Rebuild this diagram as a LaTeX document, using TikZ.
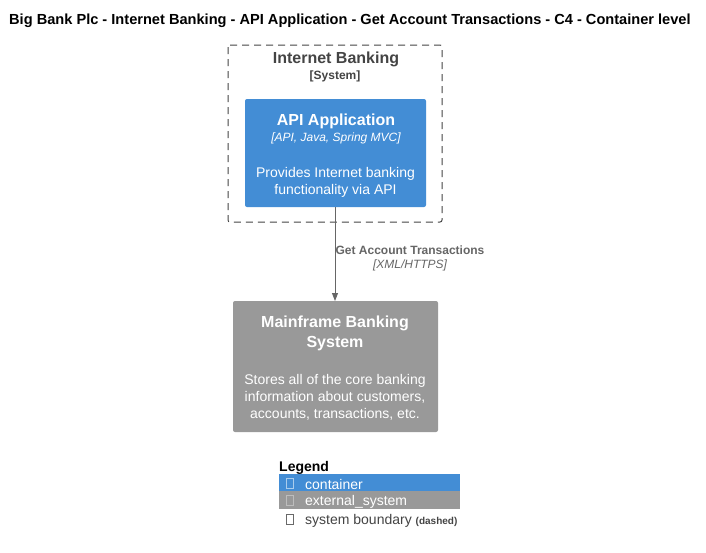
\documentclass[tikz,border=0pt]{standalone}
\usepackage{fontspec}
\setmainfont{Liberation Sans}
\usetikzlibrary{arrows.meta}
\definecolor{cblue}{HTML}{438DD5}
\definecolor{cgray}{HTML}{999999}
\definecolor{bnd}{HTML}{444444}
\definecolor{rel}{HTML}{666666}
\begin{document}
\begin{tikzpicture}[x=1pt,y=-1pt,
  fs/.style={font=\fontsize{#1}{#1}\selectfont},
  txt/.style={inner sep=0pt,anchor=center,yshift=-1.8pt},
  elem/.style={rounded corners=2pt,draw=none},
  tofu/.style={draw,line width=0.6pt,minimum width=7pt,minimum height=10pt,inner sep=0pt}]
\useasboundingbox (0,0) rectangle (706,552);
\fill[white] (0,0) rectangle (706,552);
% title
\node[txt,anchor=west,fs=14.6] (title) at (9,19) {\bfseries Big Bank Plc - Internet Banking - API Application - Get Account Transactions - C4 - Container level};
% boundary
\draw[bnd,dashed,dash pattern=on 7pt off 5pt,line width=1pt,rounded corners=2pt] (228,45) rectangle (442,222);
\node[txt,fs=16,text=bnd] (bt) at (336,58) {\bfseries Internet Banking};
\node[txt,fs=12,text=bnd] (bs) at (335,75) {\bfseries [System]};
% API app
\fill[cblue,elem] (245,99) rectangle (426,207);
\coordinate (apitop) at (335,99);
\coordinate (apibot) at (335,207);
\node[txt,fs=16,text=white] (at) at (336,120) {\bfseries API Application};
\node[txt,fs=12,text=white] (ak) at (336,137) {\itshape [API, Java, Spring MVC]};
\node[txt,fs=14,text=white,align=center] (ad) at (335.5,180.5) {Provides Internet banking\\[3pt]functionality via API};
% mainframe
\fill[cgray,elem] (233,301) rectangle (438,432);
\coordinate (mftop) at (335,301);
\node[txt,fs=16,text=white,align=center] (mt) at (335,332) {\bfseries Mainframe Banking\\[4pt]\bfseries System};
\node[txt,fs=14,text=white,align=center] (md) at (335,396) {Stores all of the core banking\\[3pt]information about customers,\\[3pt]accounts, transactions, etc.};
% relation
\draw[rel,line width=0.9pt,-{Triangle[length=8pt,width=6pt]}] (apibot) -- (mftop);
\node[txt,fs=12,text=rel] (rl) at (410,248) {\bfseries Get Account Transactions};
\node[txt,fs=12,text=rel] (rt) at (410,264) {\itshape [XML/HTTPS]};
% legend
\node[txt,anchor=west,fs=14] (lg) at (279,466) {\bfseries Legend};
\fill[cblue] (279,474) rectangle (460,491);
\fill[cgray] (279,491) rectangle (460,509);
\node[tofu,draw=white!55!cblue] (t1) at (290,483) {};
\node[tofu,draw=white!35!cgray] (t2) at (290,500.5) {};
\node[tofu,draw=bnd!80!white] (t3) at (290,519.5) {};
\node[txt,anchor=west,fs=14,text=white] (l1) at (305,483) {container};
\node[txt,anchor=west,fs=14,text=white] (l2) at (305,500.5) {external\_system};
\node[txt,anchor=west,fs=14,text=bnd] (l3) at (305,519.5) {system boundary {\fontsize{10}{10}\selectfont\bfseries(dashed)}};
\end{tikzpicture}
\end{document}
